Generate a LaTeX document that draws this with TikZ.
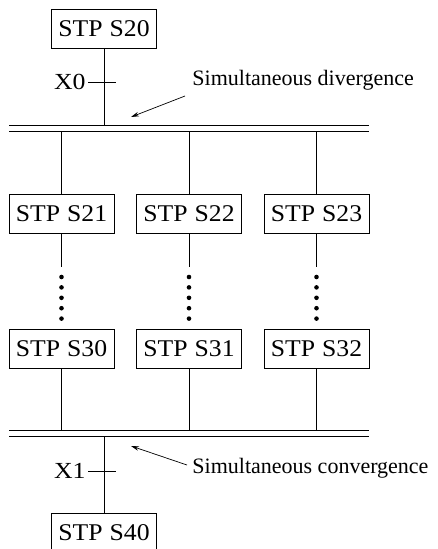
\documentclass[tikz,border=0pt]{standalone}
\usepackage{fontspec}
\setmainfont{Liberation Serif}
\usetikzlibrary{arrows.meta}
\newcommand{\steptext}[1]{\scalebox{1.07}[1]{STP}\hspace{7pt}\scalebox{1.07}[1]{#1}}
\begin{document}
\begin{tikzpicture}[x=1pt,y=-1pt,
  line width=0.9pt,
  stepbox/.style={draw, minimum width=105pt, minimum height=39pt, inner sep=0pt,
    font=\fontsize{24}{27}\selectfont},
  lbl/.style={font=\fontsize{22}{26}\selectfont, inner sep=0pt},
  cond/.style={font=\fontsize{23}{26}\selectfont, inner sep=0pt},
  pointer/.style={line width=0.7pt, -{Stealth[length=8pt,width=4.5pt]}},
  dot/.style={circle, fill, inner sep=0pt, minimum size=4.6pt}]
\useasboundingbox (0,0) rectangle (438,549);
\clip (0,0) rectangle (438,549);
% step boxes
\node[stepbox] (s20) at (104,28.5) {\steptext{S20}};
\node[stepbox] (s21) at (61.5,213.5) {\steptext{S21}};
\node[stepbox] (s22) at (189,213.5) {\steptext{S22}};
\node[stepbox] (s23) at (316.5,213.5) {\steptext{S23}};
\node[stepbox] (s30) at (61.5,348.5) {\steptext{S30}};
\node[stepbox] (s31) at (189,348.5) {\steptext{S31}};
\node[stepbox] (s32) at (316.5,348.5) {\steptext{S32}};
\node[stepbox] (s40) at (104,532.5) {\steptext{S40}};
% bars
\coordinate (dl1) at (9,125); \coordinate (dr1) at (369,125);
\coordinate (dl2) at (9,131); \coordinate (dr2) at (369,131);
\coordinate (cl1) at (9,430); \coordinate (cr1) at (369,430);
\coordinate (cl2) at (9,436); \coordinate (cr2) at (369,436);
\draw (dl1) -- (dr1);
\draw (dl2) -- (dr2);
\draw (cl1) -- (cr1);
\draw (cl2) -- (cr2);
% top trunk
\coordinate (dtop) at (104,125);
\draw (s20.south) -- (dtop);
\coordinate (x0) at (104,82);
\draw ([xshift=-16pt]x0) -- ([xshift=12pt]x0);
\node[cond, anchor=east] (x0l) at (86,82) {\scalebox{1.12}[1]{X0}};
% branches down from divergence
\foreach \b/\x in {s21/61.5, s22/189, s23/316.5}{
  \coordinate (\b top) at (\x,131);
  \draw (\b top) -- (\b.north);
}
% chain lines and dots
\foreach \a/\c/\x in {s21/s30/61.5, s22/s31/189, s23/s32/316.5}{
  \coordinate (\a end) at (\x,267);
  \draw (\a.south) -- (\a end);
  \foreach \k in {0,...,4}{
    \node[dot] (\a d\k) at (\x,{277+10.4*\k}) {};
  }
}
% branches to convergence
\foreach \b/\x in {s30/61.5, s31/189, s32/316.5}{
  \coordinate (\b bot) at (\x,430);
  \draw (\b.south) -- (\b bot);
}
% bottom trunk
\coordinate (cbot) at (104,436);
\draw (cbot) -- (s40.north);
\coordinate (x1) at (104,471);
\draw ([xshift=-16pt]x1) -- ([xshift=12pt]x1);
\node[cond, anchor=east] (x1l) at (86,471) {\scalebox{1.12}[1]{X1}};
% annotations
\node[lbl, anchor=west] (div) at (192,80) {Simultaneous divergence};
\node[lbl, anchor=west] (conv) at (192,468) {Simultaneous convergence};
\coordinate (da) at (185,96); \coordinate (db) at (131,117);
\coordinate (ca) at (187,465); \coordinate (cb) at (131,446);
\draw[pointer] (da) -- (db);
\draw[pointer] (ca) -- (cb);
\end{tikzpicture}
\end{document}
